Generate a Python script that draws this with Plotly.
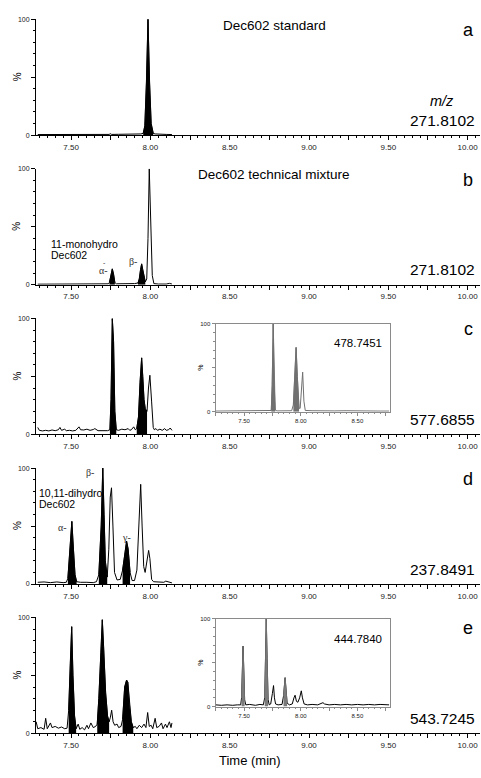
import numpy as np
import plotly.graph_objects as go

W, H = 481, 778

# ---------------- data ----------------
# Panel a: Dec602 standard, m/z 271.8102
a_time = [7.29, 7.40, 7.50, 7.60, 7.70, 7.740, 7.748, 7.756, 7.80, 7.88, 7.94, 7.955, 7.965, 7.975,
          7.985, 7.995, 8.005, 8.018, 8.03, 8.10, 8.136]
a_int = [0.5, 0.5, 0.5, 0.6, 0.6, 0.6, 1.2, 0.6, 0.7, 0.7, 1.0, 1.5, 8, 45,
         100, 45, 10, 1.5, 1.0, 0.6, 0.5]
a_filled = [(7.955, 8.018)]

# Panel b: Dec602 technical mixture, m/z 271.8102
b_time = [7.29, 7.40, 7.50, 7.60, 7.70, 7.735, 7.742, 7.750, 7.760, 7.768, 7.776, 7.785, 7.85, 7.90,
          7.922, 7.930, 7.938, 7.945, 7.952, 7.960, 7.968, 7.977, 7.985, 7.993, 8.003, 8.012, 8.022,
          8.05, 8.10, 8.12, 8.136]
b_int = [0.5, 0.5, 0.5, 0.5, 0.6, 0.8, 2, 9, 13.7, 9, 2, 0.8, 0.8, 1,
         1.5, 5, 13, 18, 13, 6, 2.5, 5, 40, 100, 45, 8, 1,
         0.6, 0.6, 1.2, 0.6]
b_filled = [(7.740, 7.778), (7.920, 7.968)]

# Panel c: m/z 577.6855
c_time = [7.29, 7.30, 7.32, 7.34, 7.36, 7.38, 7.40, 7.42, 7.43, 7.44, 7.46, 7.47, 7.49, 7.51,
          7.53, 7.55, 7.56, 7.58, 7.60, 7.62, 7.64, 7.65, 7.67, 7.69, 7.71, 7.73, 7.745, 7.752,
          7.760, 7.768, 7.776, 7.785, 7.80, 7.82, 7.84, 7.86, 7.87, 7.88, 7.895, 7.905, 7.914,
          7.925, 7.935, 7.945, 7.952, 7.960, 7.968, 7.979, 7.988, 7.997, 8.008, 8.018, 8.025,
          8.035, 8.045, 8.06, 8.075, 8.09, 8.10, 8.115, 8.125, 8.136]
c_int = [6, 3.5, 3, 3.5, 3, 3.8, 3.2, 4, 6, 3.5, 4.5, 3.2, 3.5, 3,
         3.5, 6.5, 4, 3.8, 4.5, 3.5, 4.2, 5, 3.2, 3, 3, 3.2, 4, 30,
         100, 80, 20, 4, 3.5, 4.5, 4, 5, 3.5, 4, 6.5, 4, 5,
         15, 45, 66, 50, 30, 22, 20, 40, 51, 28, 6, 4,
         5, 3.5, 4.5, 3.5, 5, 3.5, 4, 5.5, 3.5]
c_filled = [(7.745, 7.785), (7.914, 7.979)]

# Panel c inset: m/z 478.7451
ci_time = [7.25, 7.35, 7.45, 7.55, 7.65, 7.72, 7.74, 7.748, 7.757, 7.766, 7.775, 7.79, 7.85, 7.92,
           7.935, 7.947, 7.959, 7.970, 7.985, 7.995, 8.006, 8.017, 8.028, 8.04, 8.10, 8.20, 8.30,
           8.40, 8.50, 8.60, 8.70, 8.78]
ci_int = [0.8, 0.8, 1, 0.8, 1, 0.8, 1.5, 30, 100, 30, 2, 1, 1, 1.2,
          8, 40, 73, 40, 4, 4, 20, 45, 12, 1.5, 1.2, 1.5, 1,
          1.2, 0.8, 1, 0.8, 0.8]
ci_filled = [(7.740, 7.775), (7.935, 7.985)]

# Panel d: m/z 237.8491
d_time = [7.29, 7.33, 7.37, 7.41, 7.45, 7.47, 7.48, 7.49, 7.505, 7.515, 7.525, 7.535, 7.56, 7.60,
          7.64, 7.66, 7.675, 7.690, 7.700, 7.708, 7.716, 7.728, 7.738, 7.747, 7.755, 7.764, 7.774,
          7.79, 7.81, 7.825, 7.84, 7.85, 7.86, 7.872, 7.885, 7.90, 7.915, 7.930, 7.939, 7.948,
          7.958, 7.967, 7.978, 7.989, 7.997, 8.008, 8.02, 8.06, 8.085, 8.097, 8.115, 8.136]
d_int = [1.5, 1.8, 1.2, 1.8, 1.2, 1.5, 5, 25, 54, 30, 8, 2, 1.5, 1.5,
         1.2, 2, 8, 50, 100, 60, 20, 6, 30, 75, 83, 50, 10,
         3.5, 4, 12, 30, 37, 30, 10, 3, 3, 12, 65, 86, 50,
         15, 10, 22, 29, 22, 4, 2, 1.5, 1.5, 2.5, 1.5, 1]
d_filled = [(7.475, 7.535), (7.672, 7.728), (7.819, 7.882)]

# Panel e: m/z 543.7245
e_time = [7.28, 7.29, 7.31, 7.33, 7.34, 7.35, 7.37, 7.38, 7.40, 7.42, 7.44, 7.46, 7.475, 7.485,
          7.495, 7.504, 7.512, 7.522, 7.532, 7.545, 7.555, 7.57, 7.585, 7.60, 7.61, 7.625, 7.64,
          7.655, 7.665, 7.675, 7.688, 7.697, 7.705, 7.718, 7.730, 7.740, 7.748, 7.756, 7.765,
          7.775, 7.79, 7.80, 7.815, 7.825, 7.838, 7.85, 7.858, 7.868, 7.88, 7.892, 7.905, 7.915,
          7.93, 7.945, 7.96, 7.972, 7.983, 7.993, 8.005, 8.015, 8.03, 8.04, 8.055, 8.07, 8.08,
          8.095, 8.105, 8.12, 8.13, 8.136]
e_int = [10, 4, 5, 3.5, 13, 4, 9, 5, 6, 4.5, 5.5, 4, 4.5, 20,
         60, 92, 50, 15, 4, 8, 3.5, 5, 3, 7, 4, 9, 5,
         6, 8, 30, 70, 98, 75, 35, 15, 10, 14, 20, 10,
         7, 8, 5, 6, 12, 40, 46, 44, 25, 10, 5, 6, 4,
         7, 5, 8, 5, 18, 6, 7, 4, 13, 5, 6, 9, 4,
         8, 5, 10, 5, 9]
e_filled = [(7.480, 7.532), (7.665, 7.740), (7.822, 7.892)]

# Panel e inset: m/z 444.7840
ei_time = [7.25, 7.30, 7.35, 7.40, 7.44, 7.47, 7.478, 7.486, 7.491, 7.497, 7.505, 7.515, 7.55, 7.60,
           7.64, 7.67, 7.682, 7.690, 7.696, 7.703, 7.712, 7.722, 7.735, 7.750, 7.760, 7.768, 7.778,
           7.80, 7.835, 7.848, 7.856, 7.862, 7.870, 7.880, 7.90, 7.925, 7.940, 7.950, 7.962, 7.975,
           7.990, 8.005, 8.015, 8.03, 8.06, 8.10, 8.15, 8.18, 8.196, 8.21, 8.25, 8.30, 8.35, 8.40,
           8.45, 8.50, 8.55, 8.60, 8.65, 8.70, 8.75, 8.78]
ei_int = [2, 1.5, 2, 1.5, 2, 2, 10, 45, 69, 45, 8, 2, 2.5, 1.5,
          2.5, 2, 10, 60, 100, 55, 8, 2, 3, 15, 24, 10, 3,
          2, 2.5, 12, 30, 33, 20, 4, 2, 3, 10, 13, 6, 5,
          10, 18, 10, 3, 2, 2.5, 2, 3.5, 4.5, 3, 2, 2.5, 2, 2.5,
          2, 2.5, 2, 2.5, 2, 2.5, 2, 2]
ei_filled = [(7.475, 7.510), (7.680, 7.715), (7.840, 7.885)]

main_xticks = [7.25, 7.50, 7.75, 8.00, 8.25, 8.50, 8.75, 9.00, 9.25, 9.50, 9.75, 10.00]
main_xlabels = ["", "7.50", "", "8.00", "", "8.50", "", "9.00", "", "9.50", "", "10.00"]
inset_xticks = [7.25, 7.50, 7.75, 8.00, 8.25, 8.50, 8.75]
inset_xlabels = ["", "7.50", "", "8.00", "", "8.50", ""]
y_ticks = [0, 50, 100]
y_labels = ["0", "", "100"]

panel_letters = ["a", "b", "c", "d", "e"]
panel_mz = ["271.8102", "271.8102", "577.6855", "237.8491", "543.7245"]
panel_titles = ["Dec602 standard", "Dec602 technical mixture", "", "", ""]
inset_mz = ["478.7451", "444.7840"]

# ---------------- layout helpers ----------------
FONT = "Liberation Sans, Arial, sans-serif"
SERIF = "Liberation Serif, Times New Roman, serif"


def fx(x):
    return x / W


def fy(y):
    return 1 - y / H


fig = go.Figure()
layout = dict(
    width=W, height=H, margin=dict(l=0, r=0, t=0, b=0),
    paper_bgcolor="white", plot_bgcolor="rgba(0,0,0,0)",
    showlegend=False, font=dict(family=FONT, color="black"),
)

main_tops = [15.3, 166.3, 317.3, 468.3, 619.0]
PH = 117.0
main_x_px = (36, 480)
main_range = [7.279, 10.078]

panels = [
    (a_time, a_int, a_filled),
    (b_time, b_int, b_filled),
    (c_time, c_int, c_filled),
    (d_time, d_int, d_filled),
    (e_time, e_int, e_filled),
]


def add_series(t, v, filled, xa, ya, line_col, fill_col, fill_line_col):
    t = np.asarray(t, float)
    v = np.asarray(v, float)
    fig.add_trace(go.Scatter(x=t, y=v, mode="lines", xaxis=xa, yaxis=ya,
                             line=dict(color=line_col, width=1), hoverinfo="skip"))
    for lo, hi in filled:
        m = (t >= lo - 1e-9) & (t <= hi + 1e-9)
        fig.add_trace(go.Scatter(x=t[m], y=v[m], mode="lines", fill="tozeroy", xaxis=xa, yaxis=ya,
                                 fillcolor=fill_col, line=dict(color=fill_line_col, width=0.8),
                                 hoverinfo="skip"))


def axis_pair(idx, xdom, ydom, xrange, xticks, xlabels, color, xfs, yfs, tl, mtl):
    suffix = "" if idx == 1 else str(idx)
    xname, yname = "xaxis" + suffix, "yaxis" + suffix
    layout[xname] = dict(
        domain=xdom, range=xrange, anchor="y" + suffix, showgrid=False, zeroline=False,
        showline=True, linecolor=color, linewidth=1, mirror=(idx > 5),
        ticks="outside", ticklen=tl, tickwidth=1, tickcolor=color,
        tickmode="array", tickvals=xticks, ticktext=xlabels,
        tickfont=dict(size=xfs, family=FONT, color="#222"),
        minor=dict(dtick=0.05, tick0=7.0, ticks="outside", ticklen=mtl, tickcolor=color, tickwidth=1),
        fixedrange=True,
    )
    layout[yname] = dict(
        domain=ydom, range=[0, 100], anchor="x" + suffix, showgrid=False, zeroline=False,
        showline=True, linecolor=color, linewidth=1, mirror=(idx > 5),
        ticks="outside", ticklen=tl, tickwidth=1, tickcolor=color,
        tickmode="array", tickvals=y_ticks, ticktext=y_labels,
        tickfont=dict(size=yfs, family=FONT, color="#222"),
        minor=dict(dtick=10, tick0=0, ticks="outside", ticklen=mtl, tickcolor=color, tickwidth=1),
        fixedrange=True,
    )
    return ("x" + suffix, "y" + suffix)


annotations = []


def ann(text, x, y, size, xanchor="center", yanchor="middle", family=FONT, color="black",
        angle=0):
    annotations.append(dict(text=text, x=fx(x), y=fy(y), xref="paper", yref="paper",
                            xanchor=xanchor, yanchor=yanchor, showarrow=False, textangle=angle,
                            font=dict(size=size, family=family, color=color)))


for i, (t, v, filled) in enumerate(panels):
    top = main_tops[i]
    bot = top + PH
    xa, ya = axis_pair(i + 1, [fx(main_x_px[0]), fx(main_x_px[1])], [fy(bot), fy(top)],
                       main_range, main_xticks, main_xlabels, "black", 8, 7, 4, 2)
    add_series(t, v, filled, xa, ya, "black", "black", "black")
    ann("%", 17, top + PH / 2, 10, angle=-90)
    ann(panel_letters[i], 468, top + 11, 18)
    ann(panel_mz[i], 477, top + 102, 15.5, xanchor="right")
    if panel_titles[i]:
        ann(panel_titles[i], 274, top + 6, 13.5)

# insets
inset_specs = [
    (ci_time, ci_int, ci_filled, 322.5, 411.5, "#707070", "#707070", "#707070"),
    (ei_time, ei_int, ei_filled, 620.5, 709.0, "black", "#7a7a7a", "#7a7a7a"),
]
for j, (t, v, filled, ytop, ybot, lc, fc, flc) in enumerate(inset_specs):
    xa, ya = axis_pair(6 + j, [fx(215.5), fx(389.5)], [fy(ybot), fy(ytop)], [7.248, 8.783],
                       inset_xticks, inset_xlabels, "#8a8a8a", 6, 6, 3, 1.5)
    add_series(t, v, filled, xa, ya, lc, fc, flc)
    ann("%", 201, (ytop + ybot) / 2, 7, angle=-90)
    ann(inset_mz[j], 358, ytop + 20, 11.5)

# extra labels
ann("<i>m/z</i>", 442, 98, 14.5)
ann("11-monohydro", 49, 242, 10.5, xanchor="left")
ann("Dec602", 49, 253.5, 10.5, xanchor="left")
ann("α-", 103, 268.5, 10, family=SERIF, color="#333")
ann("-", 104.5, 261, 7, color="#333")
ann("β-", 133, 260, 10, family=SERIF, color="#333")
ann("β-", 90, 473, 10, family=SERIF, color="#333")
ann("10,11-dihydro", 37, 493, 10.5, xanchor="left")
ann("Dec602", 37, 504.5, 10.5, xanchor="left")
ann("α-", 62, 528, 10, family=SERIF, color="#333")
ann("γ-", 126, 538, 10, family=SERIF, color="#333")
ann("Time (min)", 250, 763, 13)

layout["annotations"] = annotations
fig.update_layout(**layout)
fig.write_html(
    "out.html",
    config={"displayModeBar": False, "responsive": False},
    post_script="document.body.style.margin='0';document.body.style.overflow='hidden';",
)
